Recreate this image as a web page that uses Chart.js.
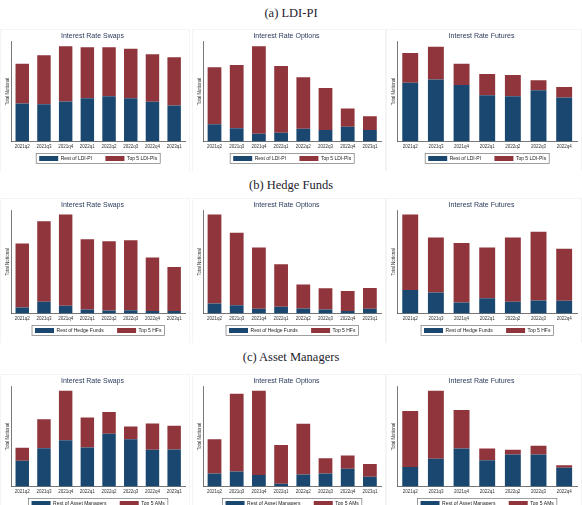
<!DOCTYPE html>
<html>
<head>
<meta charset="utf-8">
<script src="https://cdn.jsdelivr.net/npm/chart.js@4.4.1/dist/chart.umd.min.js"></script>
<style>
body { margin: 0; width: 582px; height: 505px; overflow: hidden; background: #fff; position: relative; }
.sec { position: absolute; left: 0; width: 582px; text-align: center; font-family: "Liberation Serif", "DejaVu Serif", serif; font-size: 12.5px; line-height: 15px; color: #1c1c2c; }
canvas { position: absolute; }
</style>
</head>
<body>
<div class="sec" style="top:6px">(a) LDI-PI</div>
<div class="sec" style="top:178px">(b) Hedge Funds</div>
<div class="sec" style="top:350px">(c) Asset Managers</div>

<canvas id="ldiSwaps" width="190" height="142" style="left:0;top:29px"></canvas>
<canvas id="ldiOptions" width="194" height="142" style="left:192px;top:29px"></canvas>
<canvas id="ldiFutures" width="196" height="142" style="left:386px;top:29px"></canvas>

<canvas id="hfSwaps" width="190" height="145" style="left:0;top:198px"></canvas>
<canvas id="hfOptions" width="194" height="145" style="left:192px;top:198px"></canvas>
<canvas id="hfFutures" width="196" height="145" style="left:386px;top:198px"></canvas>

<canvas id="amSwaps" width="190" height="142" style="left:0;top:374px"></canvas>
<canvas id="amOptions" width="194" height="142" style="left:192px;top:374px"></canvas>
<canvas id="amFutures" width="196" height="142" style="left:386px;top:374px"></canvas>

<script>
// 季度标签
const quarters8 = ['2021q2', '2021q3', '2021q4', '2022q1', '2022q2', '2022q3', '2022q4', '2023q1'];
const quarters7 = ['2021q2', '2021q3', '2021q4', '2022q1', '2022q2', '2022q3', '2022q4'];

// (a) LDI-PI
const ldiSwapsRest = [116, 114, 122, 132, 138, 132, 121, 110];
const ldiSwapsTop5 = [121, 149, 168, 155, 149, 151, 145, 147];
const ldiOptionsRest = [53, 41, 24, 27, 39, 35, 45, 35];
const ldiOptionsTop5 = [173, 192, 266, 203, 157, 128, 56, 42];
const ldiFuturesRest = [179, 189, 172, 141, 138, 156, 134];
const ldiFuturesTop5 = [91, 100, 65, 65, 65, 31, 32];

// (b) Hedge Funds
const hfSwapsRest = [18, 35, 23, 12, 9, 10, 8, 8];
const hfSwapsTop5 = [189, 238, 270, 208, 205, 207, 158, 130];
const hfOptionsRest = [30, 25, 14, 20, 15, 12, 8, 14];
const hfOptionsTop5 = [263, 214, 181, 126, 71, 63, 59, 62];
const hfFuturesRest = [70, 62, 33, 45, 35, 39, 38];
const hfFuturesTop5 = [223, 163, 176, 150, 190, 203, 154];

// (c) Asset Managers
const amSwapsRest = [79, 117, 141, 119, 161, 144, 112, 113];
const amSwapsTop5 = [39, 88, 151, 91, 66, 39, 80, 72];
const amOptionsRest = [40, 46, 35, 9, 37, 40, 54, 30];
const amOptionsTop5 = [104, 237, 257, 118, 154, 46, 41, 39];
const amFuturesRest = [60, 85, 116, 80, 98, 98, 57];
const amFuturesTop5 = [170, 207, 117, 36, 14, 26, 8];

const yMax = 305;
const navy = '#1a476f';
const maroon = '#90353b';

// 图例外框
const legendBox = {
    id: 'legendBox',
    afterDraw(chart) {
        const boxes = chart.legend && chart.legend.legendHitBoxes;
        if (!boxes || !boxes.length) return;
        let l = Infinity, t = Infinity, r = -Infinity, b = -Infinity;
        boxes.forEach(h => {
            l = Math.min(l, h.left);
            t = Math.min(t, h.top);
            r = Math.max(r, h.left + h.width);
            b = Math.max(b, h.top + h.height);
        });
        const ctx = chart.ctx;
        ctx.save();
        ctx.strokeStyle = '#777';
        ctx.lineWidth = 0.7;
        ctx.strokeRect(l - 3, t - 2.5, r - l + 6, b - t + 5);
        ctx.restore();
    }
};

// 子图外的浅色边框
const frame = {
    id: 'frame',
    afterDraw(chart) {
        const ctx = chart.ctx;
        ctx.save();
        ctx.strokeStyle = '#f4f4f4';
        ctx.lineWidth = 1;
        ctx.strokeRect(0.5, 0.5, chart.width - 1, chart.height + 10);
        ctx.restore();
    }
};

function makeChart(id, title, labels, rest, top5, restLabel, topLabel) {
    const ctx = document.getElementById(id).getContext('2d');
    return new Chart(ctx, {
        type: 'bar',
        data: {
            labels: labels,
            datasets: [{
                label: restLabel + '      ',
                data: rest,
                backgroundColor: navy,
                borderWidth: 0
            }, {
                label: topLabel,
                data: top5,
                backgroundColor: maroon,
                borderWidth: 0
            }]
        },
        options: {
            responsive: false,
            animation: false,
            devicePixelRatio: 1,
            layout: { padding: { left: 0, right: 5, top: 0, bottom: 0 } },
            datasets: { bar: { categoryPercentage: 1, barPercentage: 0.62 } },
            plugins: {
                title: {
                    display: true,
                    text: title,
                    color: '#2c3a5c',
                    font: { family: 'Liberation Sans, Arial, sans-serif', size: 7, weight: 'normal' },
                    padding: { top: 3, bottom: 1 }
                },
                legend: {
                    position: 'bottom',
                    fullSize: false,
                    labels: {
                        color: '#222',
                        font: { family: 'Liberation Sans, Arial, sans-serif', size: 5 },
                        boxWidth: 19,
                        boxHeight: 5,
                        padding: 5
                    }
                },
                tooltip: { enabled: false }
            },
            scales: {
                x: {
                    stacked: true,
                    grid: { display: false, drawTicks: false },
                    border: { display: true, color: '#555', width: 0.8 },
                    ticks: {
                        color: '#333',
                        font: { family: 'Liberation Sans, Arial, sans-serif', size: 4.5 },
                        maxRotation: 0,
                        autoSkip: false,
                        padding: 2
                    }
                },
                y: {
                    stacked: true,
                    min: 0,
                    max: yMax,
                    grid: { display: false, drawTicks: false },
                    border: { display: true, color: '#555', width: 0.8 },
                    ticks: { display: false },
                    title: {
                        display: true,
                        text: 'Total Notional',
                        color: '#333',
                        font: { family: 'Liberation Sans, Arial, sans-serif', size: 4.5 },
                        padding: { top: 5, bottom: 1 }
                    }
                }
            }
        },
        plugins: [legendBox, frame]
    });
}

makeChart('ldiSwaps', 'Interest Rate Swaps', quarters8, ldiSwapsRest, ldiSwapsTop5, 'Rest of LDI-PI', 'Top 5 LDI-PIs');
makeChart('ldiOptions', 'Interest Rate Options', quarters8, ldiOptionsRest, ldiOptionsTop5, 'Rest of LDI-PI', 'Top 5 LDI-PIs');
makeChart('ldiFutures', 'Interest Rate Futures', quarters7, ldiFuturesRest, ldiFuturesTop5, 'Rest of LDI-PI', 'Top 5 LDI-PIs');

makeChart('hfSwaps', 'Interest Rate Swaps', quarters8, hfSwapsRest, hfSwapsTop5, 'Rest of Hedge Funds', 'Top 5 HFs');
makeChart('hfOptions', 'Interest Rate Options', quarters8, hfOptionsRest, hfOptionsTop5, 'Rest of Hedge Funds', 'Top 5 HFs');
makeChart('hfFutures', 'Interest Rate Futures', quarters7, hfFuturesRest, hfFuturesTop5, 'Rest of Hedge Funds', 'Top 5 HFs');

makeChart('amSwaps', 'Interest Rate Swaps', quarters8, amSwapsRest, amSwapsTop5, 'Rest of Asset Managers', 'Top 5 AMs');
makeChart('amOptions', 'Interest Rate Options', quarters8, amOptionsRest, amOptionsTop5, 'Rest of Asset Managers', 'Top 5 AMs');
makeChart('amFutures', 'Interest Rate Futures', quarters7, amFuturesRest, amFuturesTop5, 'Rest of Asset Managers', 'Top 5 AMs');
</script>
</body>
</html>
